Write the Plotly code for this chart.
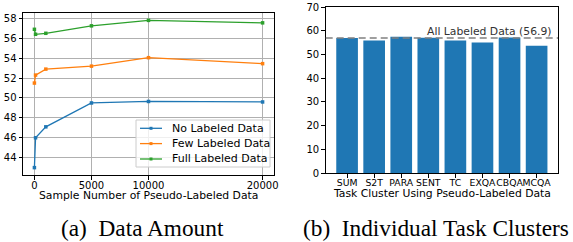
import plotly.graph_objects as go

# ---- data ----
sample_numbers = [0, 100, 1000, 5000, 10000, 20000]
no_labeled = [43.0, 46.0, 47.1, 49.5, 49.65, 49.6]
few_labeled = [51.5, 52.3, 52.9, 53.2, 54.05, 53.45]
full_labeled = [56.9, 56.4, 56.5, 57.25, 57.8, 57.55]
series_names = ["No Labeled Data", "Few Labeled Data", "Full Labeled Data"]
x_ticks = [0, 5000, 10000, 20000]
y_ticks_left = [44, 46, 48, 50, 52, 54, 56, 58]

clusters = ["SUM", "S2T", "PARA", "SENT", "TC", "EXQA", "CBQA", "MCQA"]
cluster_scores = [56.9, 55.9, 57.5, 57.0, 55.9, 55.0, 57.1, 53.7]
y_ticks_right = [0, 10, 20, 30, 40, 50, 60, 70]
all_labeled = 56.9

colors = ["#1f77b4", "#ff7f0e", "#2ca02c"]
W, H = 573, 242

fig = go.Figure()
for name, vals, c in zip(series_names, [no_labeled, few_labeled, full_labeled], colors):
    fig.add_trace(go.Scatter(
        x=sample_numbers, y=vals, mode="lines+markers", name=name,
        line=dict(color=c, width=1.3),
        marker=dict(symbol="square", size=3.5, color=c),
        showlegend=False, xaxis="x", yaxis="y"))

fig.add_trace(go.Bar(
    x=list(range(len(clusters))), y=cluster_scores, marker=dict(color="#1f77b4", line=dict(width=0)),
    width=0.8, showlegend=False, xaxis="x2", yaxis="y2"))

tickfont = dict(family="DejaVu Sans", size=10, color="black")
axcommon = dict(showline=True, linecolor="black", linewidth=1, mirror=True,
                ticks="outside", ticklen=3.5, tickcolor="black",
                zeroline=False, automargin=False)

L_x0, L_x1, L_y0, L_y1 = 23, 274, 13, 175
R_x0, R_x1, R_y0, R_y1 = 325.7, 558, 7, 173

fig.update_layout(
    width=W, height=H, margin=dict(l=0, r=0, t=0, b=0),
    paper_bgcolor="white", plot_bgcolor="white",
    font=dict(family="DejaVu Sans", size=10, color="black"),
    showlegend=False,
    xaxis=dict(domain=[L_x0/W, L_x1/W], range=[-1000, 21000],
               tickvals=x_ticks, ticktext=[str(v) for v in x_ticks], tickangle=0,
               ticklabelstandoff=-3,
               showgrid=True, gridcolor="#b0b0b0", gridwidth=1, tickfont=tickfont,
               anchor="y", **axcommon),
    yaxis=dict(domain=[(H-L_y1)/H, (H-L_y0)/H], range=[42.26, 58.54],
               tickvals=y_ticks_left, tickfont=tickfont,
               showgrid=True, gridcolor="#b0b0b0", gridwidth=1, anchor="x", **axcommon),
    xaxis2=dict(domain=[R_x0/W, R_x1/W], range=[-0.79, 7.79],
                tickvals=list(range(len(clusters))), ticktext=clusters, tickangle=0,
                ticklabelstandoff=-3,
                showgrid=False, tickfont=dict(family="DejaVu Sans", size=9.3, color="black"),
                anchor="y2", **axcommon),
    yaxis2=dict(domain=[(H-R_y1)/H, (H-R_y0)/H], range=[0, 70],
                tickvals=y_ticks_right, tickfont=tickfont,
                showgrid=False, anchor="x2", **axcommon),
)

# axis titles
fig.add_annotation(xref="paper", yref="paper", x=(L_x0+L_x1)/2/W, y=(H-195)/H,
                   text="Sample Number of Pseudo-Labeled Data", showarrow=False,
                   font=dict(family="DejaVu Sans", size=10.8), xanchor="center", yanchor="middle")
fig.add_annotation(xref="paper", yref="paper", x=(R_x0+R_x1)/2/W, y=(H-193.5)/H,
                   text="Task Cluster Using Pseudo-Labeled Data", showarrow=False,
                   font=dict(family="DejaVu Sans", size=10.8), xanchor="center", yanchor="middle")

# manual legend (matplotlib style)
fig.add_shape(type="rect", xref="paper", yref="paper",
              x0=136/W, x1=270/W, y0=(H-167)/H, y1=(H-120)/H,
              line=dict(color="#cccccc", width=1), fillcolor="rgba(255,255,255,0.8)", layer="above")
row_y = [128.3, 143.6, 159.0]
for name, c, ry in zip(series_names, colors, row_y):
    yp = (H-ry)/H
    fig.add_shape(type="line", xref="paper", yref="paper", x0=140/W, x1=162/W, y0=yp, y1=yp,
                  line=dict(color=c, width=1.3), layer="above")
    fig.add_shape(type="rect", xref="paper", yref="paper",
                  x0=149.5/W, x1=152.5/W, y0=(H-ry-1.5)/H, y1=(H-ry+1.5)/H,
                  line=dict(width=0), fillcolor=c, layer="above")
    fig.add_annotation(xref="paper", yref="paper", x=170/W, y=yp, text=name, showarrow=False,
                       xanchor="left", yanchor="middle",
                       font=dict(family="DejaVu Sans", size=11, color="black"))

# reference line
fig.add_shape(type="line", xref="x2 domain", yref="y2", x0=0, x1=1, y0=all_labeled, y1=all_labeled,
              line=dict(color="gray", width=1.6, dash="7px,4px"))
fig.add_annotation(xref="x2 domain", yref="y2", x=0.981, y=all_labeled, xanchor="right", yanchor="bottom",
                   text=f"All Labeled Data ({all_labeled})", showarrow=False,
                   font=dict(family="DejaVu Sans", size=10.8, color="#333333"), yshift=-2)

capfont = dict(family="Liberation Serif", size=23.3, color="black")
fig.add_annotation(xref="paper", yref="paper", x=142.5/W, y=(H-228)/H, text="(a)\u00a0 Data Amount",
                   showarrow=False, font=capfont, xanchor="center", yanchor="middle")
fig.add_annotation(xref="paper", yref="paper", x=435.5/W, y=(H-228)/H,
                   text="(b)\u00a0 Individual Task Clusters",
                   showarrow=False, font=capfont, xanchor="center", yanchor="middle")

fig.write_html("out.html", config={"displayModeBar": False},
               post_script="document.body.style.margin='0';document.body.style.overflow='hidden';")
